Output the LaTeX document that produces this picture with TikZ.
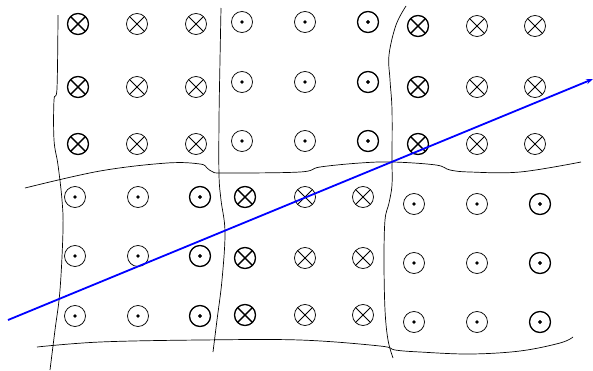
\documentclass[tikz,border=0pt]{standalone}
\usetikzlibrary{arrows.meta}
\tikzset{
  field/.style={draw, circle, minimum size=21pt, inner sep=0pt, line width=.75pt},
  into/.style={field, path picture={\draw (path picture bounding box.north west) -- (path picture bounding box.south east) (path picture bounding box.north east) -- (path picture bounding box.south west);}},
  outof/.style={field, path picture={\fill (path picture bounding box.center) circle (1.8pt);}},
  heavy/.style={line width=1.2pt},
  wall/.style={line width=.7pt}
}
\begin{document}
\begin{tikzpicture}[x=1pt, y=-1pt]
   \useasboundingbox (0,0) rectangle (593,370);

   \foreach \x in {78,137,196}
   \foreach \y in {24,87,144}
   \node[into] (a-\x-\y) at (\x,\y) {};
   \foreach \x in {242,305,368}
   \foreach \y in {22,82,141}
   \node[outof] (b-\x-\y) at (\x,\y) {};
   \foreach \x in {418,477,535}
   \foreach \y in {26,87,144}
   \node[into] (c-\x-\y) at (\x,\y) {};
   \foreach \x in {75,138,200}
   \foreach \y in {197,256,316}
   \node[outof] (d-\x-\y) at (\x,\y) {};
   \foreach \x in {245,305,363}
   \foreach \y in {197,258,315}
   \node[into] (e-\x-\y) at (\x,\y) {};
   \foreach \x in {414,477,540}
   \foreach \y in {204,263,322}
   \node[outof] (f-\x-\y) at (\x,\y) {};

   \foreach \y in {24,87,144} \node[into, heavy] at (78,\y) {};
   \foreach \y in {22,82,141} \node[outof, heavy] at (368,\y) {};
   \foreach \y in {26,87,144} \node[into, heavy] at (418,\y) {};
   \foreach \y in {197,256,316} \node[outof, heavy] at (200,\y) {};
   \foreach \y in {197,258,315} \node[into, heavy] at (245,\y) {};
   \foreach \y in {204,263,322} \node[outof, heavy] at (540,\y) {};

   \draw[wall] plot[smooth, tension=.6] coordinates {(58,15) (57,88) (54,100) (54,140) (58,165) (62,200) (63,230) (60,290) (55,330) (50,370)};
   \draw[wall] plot[smooth, tension=.6] coordinates {(221,8) (220,60) (219,120) (219,175) (221,200) (225,232) (222,280) (217,320) (213,352)};
   \draw[wall] plot[smooth, tension=.6] coordinates {(406,6) (396,25) (389,55) (390,80) (392,110) (392,160) (392,185) (389,203) (385,220) (384,260) (385,310) (388,340) (393,358)};

   \draw[wall] plot[smooth, tension=.6] coordinates {(25,188) (100,171) (167,163) (200,164) (207,168) (213,172) (225,173) (300,172) (320,167) (360,163) (393,162) (436,165) (450,170) (470,172) (520,172) (581,162)};
   \draw[wall] plot[smooth, tension=.6] coordinates {(37,347) (100,342) (200,340) (300,340) (380,346) (395,350) (420,352) (470,354) (520,351) (560,343) (573,337)};

   \coordinate (start) at (8,320);
   \coordinate (end) at (593,79);
   \draw[blue, line width=1.8pt, -{Stealth[length=7pt, width=5pt]}] (start) -- (end);

\end{tikzpicture}
\end{document}
